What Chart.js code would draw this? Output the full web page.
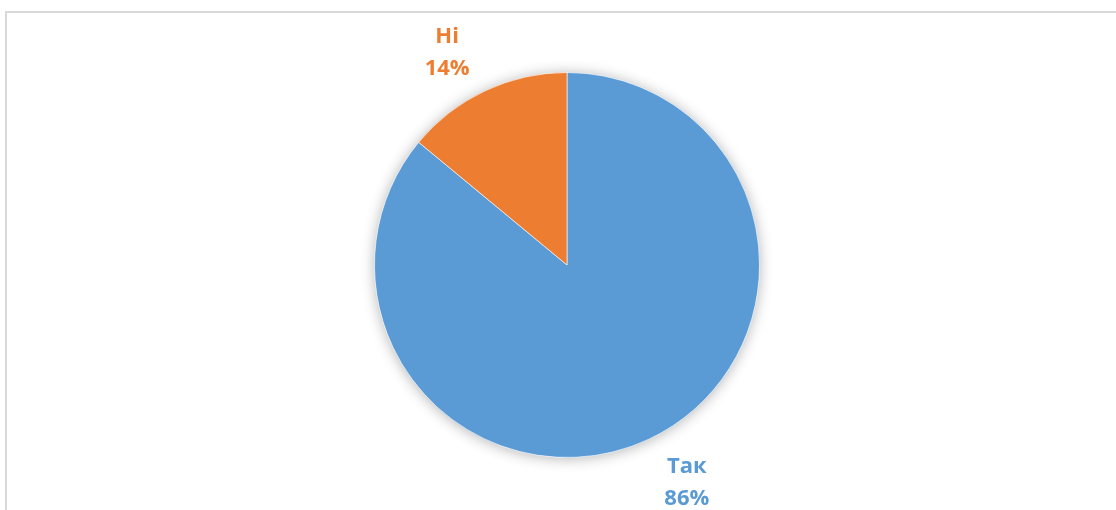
<!DOCTYPE html>
<html>
<head>
<meta charset="utf-8">
<script src="https://cdn.jsdelivr.net/npm/chart.js@4/dist/chart.umd.min.js"></script>
<style>
  html, body { margin: 0; padding: 0; background: #fff; }
  #wrap { position: relative; width: 1116px; height: 510px; overflow: hidden; }
  #frame { position: absolute; left: 5px; top: 11px; width: 1200px; height: 600px;
           border-top: 2px solid #d9d9d9; border-left: 2px solid #d9d9d9; }
  #myChart { position: absolute; left: 0; top: 0; }
</style>
</head>
<body>
<div id="wrap">
  <div id="frame"></div>
  <canvas id="myChart" width="1116" height="510"></canvas>
</div>
<script>
var labels = ['Так', 'Ні'];
var values = [86, 14];
var colors = ['#5B9BD5', '#ED7D31'];

// soft shadow under the whole pie
var pieShadow = {
  id: 'pieShadow',
  beforeDatasetsDraw: function (chart) {
    var arc = chart.getDatasetMeta(0).data[0];
    if (!arc) return;
    var ctx = chart.ctx;
    ctx.save();
    ctx.shadowColor = 'rgba(0,0,0,0.30)';
    ctx.shadowBlur = 14;
    ctx.shadowOffsetX = 0;
    ctx.shadowOffsetY = 1;
    ctx.fillStyle = '#fff';
    ctx.beginPath();
    ctx.arc(arc.x, arc.y, arc.outerRadius, 0, Math.PI * 2);
    ctx.fill();
    ctx.restore();
  }
};

// outside labels: category + percent (box placed off the arc, wider sideways)
var outLabels = {
  id: 'outLabels',
  afterDatasetsDraw: function (chart) {
    var ctx = chart.ctx;
    var meta = chart.getDatasetMeta(0);
    var total = values.reduce(function (a, b) { return a + b; }, 0);
    ctx.save();
    ctx.font = 'bold 22px "Open Sans", sans-serif';
    ctx.textAlign = 'center';
    ctx.textBaseline = 'middle';
    meta.data.forEach(function (arc, i) {
      var mid = (arc.startAngle + arc.endAngle) / 2;
      var x = arc.x + Math.cos(mid) * (arc.outerRadius + 89);
      var y = arc.y + 3 + Math.sin(mid) * (arc.outerRadius + 45);
      ctx.fillStyle = colors[i];
      ctx.fillText(labels[i], x, y - 16);
      ctx.fillText(Math.round(values[i] / total * 100) + '%', x, y + 16);
    });
    ctx.restore();
  }
};

var config = {
  type: 'pie',
  data: {
    labels: labels,
    datasets: [{
      data: values,
      backgroundColor: colors,
      borderColor: 'rgba(255,255,255,0.6)',
      borderWidth: 1
    }]
  },
  options: {
    responsive: false,
    animation: false,
    layout: {
      padding: { top: 72, bottom: 52, left: 18, right: 0 }
    },
    plugins: {
      legend: { display: false },
      tooltip: { enabled: false }
    }
  },
  plugins: [pieShadow, outLabels]
};

new Chart(document.getElementById('myChart'), config);
</script>
</body>
</html>
